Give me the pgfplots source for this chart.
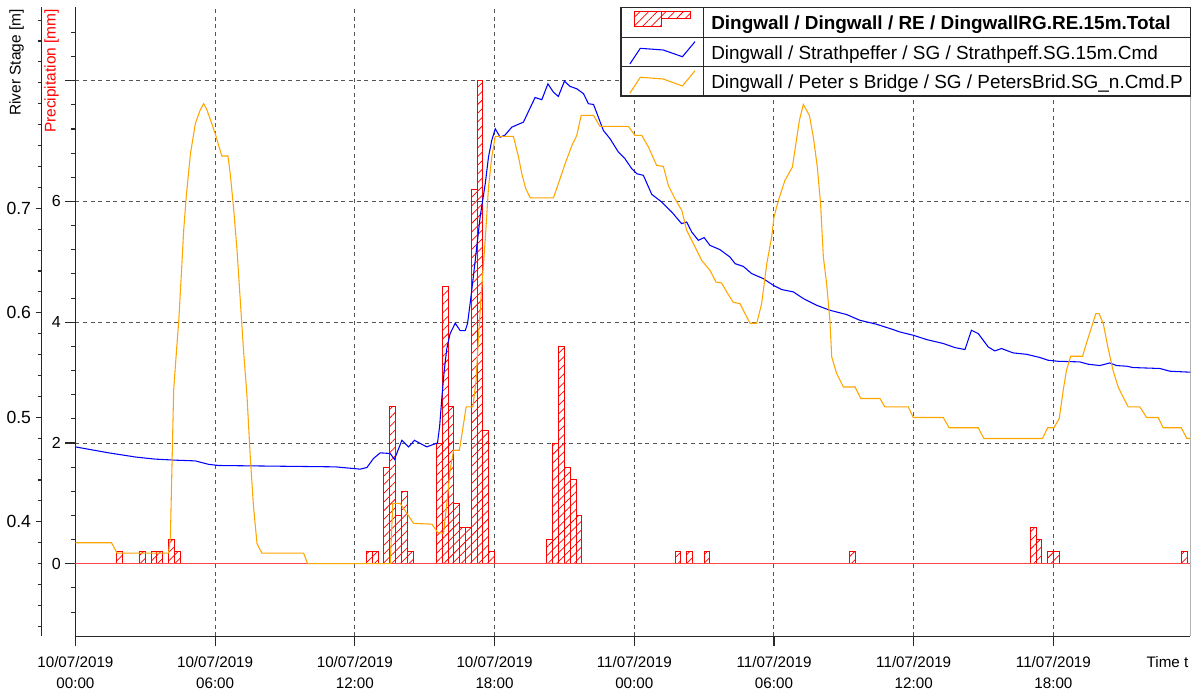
\documentclass[border=0pt]{standalone}
\usepackage{fontspec}
\setmainfont{Liberation Sans}
\usepackage{pgfplots}
\pgfplotsset{compat=1.18}
\usepackage{pgfplotstable}
\usetikzlibrary{patterns.meta}

\definecolor{stageblue}{RGB}{0,0,255}
\definecolor{peterorange}{RGB}{255,165,0}
\definecolor{rainred}{RGB}{255,0,0}
\definecolor{zerored}{RGB}{255,70,70}
\definecolor{gridgray}{RGB}{85,85,85}
\definecolor{axisgray}{RGB}{40,40,40}

% Precipitation, 15 min totals (bar centre in hours from 10/07/2019 00:00, mm)
\pgfplotstableread{
t p
1.875 0.2
2.875 0.2
3.375 0.2
3.625 0.2
4.125 0.4
4.375 0.2
12.625 0.2
12.875 0.2
13.375 1.6
13.625 2.6
13.875 0.8
14.125 1.2
14.375 0.2
15.625 2.0
15.875 4.6
16.125 2.6
16.375 1.0
16.625 0.6
16.875 0.6
17.125 6.2
17.375 8.0
17.625 2.2
17.875 0.2
20.375 0.4
20.625 2.0
20.875 3.6
21.125 1.6
21.375 1.4
21.625 0.8
25.875 0.2
26.375 0.2
27.125 0.2
33.375 0.2
41.125 0.6
41.375 0.4
41.875 0.2
42.125 0.2
47.625 0.2
}\rain

% Strathpeffer river stage (m)
\pgfplotstableread{
t s
0 0.4717
1.43 0.466
2.58 0.462
3.43 0.460
4.29 0.459
5.15 0.4583
5.72 0.455
6.15 0.4539
8.44 0.4533
11.16 0.4526
12.23 0.4504
12.52 0.452
12.80 0.4606
13.09 0.466
13.52 0.4654
13.70 0.4597
13.88 0.470
14.02 0.478
14.31 0.4717
14.56 0.478
14.81 0.475
15.09 0.4717
15.55 0.4755
15.64 0.491
15.74 0.5195
15.84 0.545
15.95 0.5658
16.09 0.580
16.31 0.590
16.52 0.583
16.74 0.583
16.84 0.5897
16.98 0.614
17.17 0.650
17.38 0.6916
17.60 0.7235
17.74 0.749
17.88 0.765
18.03 0.776
18.24 0.768
18.45 0.770
18.74 0.7776
19.24 0.7824
19.74 0.806
20.03 0.8038
20.29 0.819
20.53 0.811
20.74 0.807
21.00 0.8216
21.24 0.8166
21.53 0.8143
21.82 0.8096
22.03 0.800
22.25 0.7993
22.46 0.787
22.67 0.7745
22.96 0.7665
23.32 0.7537
23.60 0.7474
23.89 0.7379
24.11 0.733
24.39 0.7315
24.75 0.7133
25.18 0.7059
25.61 0.6964
26.03 0.6853
26.25 0.6868
26.47 0.6772
26.75 0.6693
27.00 0.6719
27.25 0.6645
27.68 0.6604
28.11 0.6533
28.33 0.647
28.68 0.6444
29.04 0.6375
29.54 0.6327
29.97 0.6263
30.33 0.6222
30.83 0.620
31.26 0.6136
31.83 0.6072
32.40 0.6024
33.12 0.5983
33.69 0.5928
34.41 0.589
35.12 0.5839
35.41 0.5816
35.98 0.5785
36.55 0.5744
37.27 0.5706
37.77 0.5667
38.20 0.5648
38.48 0.5833
38.77 0.5801
39.20 0.5673
39.48 0.5635
39.77 0.5658
40.27 0.5616
40.84 0.5603
41.42 0.5572
41.77 0.5546
42.20 0.5536
43.13 0.553
43.49 0.5508
43.99 0.5495
44.42 0.552
44.71 0.5495
45.14 0.5489
45.42 0.5476
46.57 0.5467
47.00 0.5441
47.64 0.5434
47.88 0.5432
}\strath

% Peter's Bridge river stage (m)
\pgfplotstableread{
t s
0 0.380
1.55 0.380
1.79 0.370
4.00 0.370
4.08 0.386
4.15 0.456
4.22 0.526
4.29 0.548
4.44 0.593
4.55 0.637
4.65 0.679
4.76 0.711
4.94 0.752
5.15 0.781
5.36 0.794
5.51 0.800
5.65 0.794
5.84 0.782
6.01 0.771
6.15 0.760
6.29 0.750
6.55 0.750
6.65 0.733
6.79 0.701
6.94 0.660
7.08 0.612
7.22 0.564
7.37 0.520
7.51 0.462
7.65 0.414
7.80 0.379
8.01 0.370
9.80 0.370
9.97 0.360
13.52 0.360
13.63 0.4176
13.95 0.4176
14.24 0.408
14.52 0.3985
15.31 0.3978
15.55 0.390
15.81 0.389
15.95 0.4176
16.09 0.4494
16.24 0.4685
16.49 0.4685
16.67 0.494
16.78 0.510
17.07 0.510
17.21 0.536
17.31 0.577
17.42 0.615
17.60 0.670
17.74 0.720
17.88 0.749
18.03 0.7687
18.81 0.7687
19.03 0.749
19.17 0.733
19.34 0.7187
19.53 0.710
20.53 0.710
20.74 0.7235
21.03 0.7426
21.32 0.760
21.53 0.7697
21.72 0.7888
22.25 0.7888
22.53 0.7783
23.75 0.7783
24.03 0.7697
24.32 0.7697
24.61 0.7585
24.96 0.741
25.25 0.740
25.46 0.722
25.75 0.709
26.04 0.698
26.25 0.679
26.61 0.663
26.90 0.650
27.25 0.6406
27.51 0.6294
27.75 0.6285
27.97 0.620
28.25 0.610
28.54 0.6088
28.76 0.599
28.97 0.590
29.26 0.590
29.47 0.6088
29.69 0.647
29.90 0.6725
30.00 0.6916
30.19 0.7076
30.47 0.7267
30.79 0.7394
30.94 0.7618
31.09 0.784
31.26 0.7993
31.52 0.7888
31.69 0.768
31.86 0.7394
32.00 0.7044
32.12 0.6533
32.26 0.628
32.40 0.5928
32.48 0.5577
32.69 0.5419
32.98 0.529
33.48 0.529
33.73 0.518
34.55 0.518
34.76 0.510
35.77 0.510
35.98 0.4998
37.27 0.4998
37.52 0.490
38.77 0.490
39.01 0.4797
41.53 0.4797
41.75 0.490
42.02 0.490
42.25 0.4989
42.42 0.5259
42.56 0.545
42.74 0.5584
43.25 0.5584
43.42 0.5711
43.64 0.5864
43.82 0.5992
43.96 0.5992
44.14 0.5897
44.35 0.5658
44.56 0.545
44.78 0.529
44.99 0.5195
45.21 0.510
45.71 0.510
46.00 0.4998
46.50 0.4998
46.71 0.490
47.49 0.490
47.73 0.4797
47.88 0.4797
}\peters

\begin{document}
\begin{tikzpicture}
\useasboundingbox (0,0) rectangle (900.75pt,521.25pt);

% ---------- precipitation axis (main frame, time axis, grid, bars) ----------
\begin{axis}[
  at={(56.55pt,43.875pt)}, anchor=south west,
  scale only axis, width=836.2pt, height=472.4pt,
  xmin=0, xmax=47.88, ymin=-1.204, ymax=9.227,
  axis x line*=bottom, axis y line*=left,
  axis line style={axisgray, line width=1pt, -},
  tick style={axisgray, line width=0.8pt},
  tick align=outside,
  major tick length=7.5pt, minor tick length=3pt,
  xtick={0,6,12,18,24,30,36,42},
  xticklabels={{10/07/2019\\00:00},{10/07/2019\\06:00},{10/07/2019\\12:00},{10/07/2019\\18:00},{11/07/2019\\00:00},{11/07/2019\\06:00},{11/07/2019\\12:00},{11/07/2019\\18:00}},
  xticklabel style={align=center, font=\fontsize{11.4}{16}\selectfont, yshift=-3.6pt},
  ytick={0,2,4,6,8}, yticklabels={0,2,4,6,{}},
  minor ytick={-0.8,-0.4,0.4,0.8,1.2,1.6,2.4,2.8,3.2,3.6,4.4,4.8,5.2,5.6,6.4,6.8,7.2,7.6,8.4,8.8},
  yticklabel style={font=\fontsize{12}{14}\selectfont},
  xmajorgrids, ymajorgrids,
  major grid style={gridgray, line width=0.75pt, dash pattern=on 3pt off 2.7pt},
  xlabel={Time t},
  xlabel style={at={(rel axis cs:1,0)}, anchor=base east, xshift=2pt, yshift=-22.9pt, font=\fontsize{11.4}{14}\selectfont},
  clip=true,
]
\draw[axisgray, line width=1pt] (rel axis cs:1,0) -- (rel axis cs:1,1);
\addplot[ybar, bar width=0.25, bar shift=0pt, draw=rainred, line width=0.7pt,
  pattern={Lines[angle=45,distance=4.6pt,line width=0.55pt]}, pattern color=rainred]
  table[x=t, y=p] {\rain};
\addplot[zerored, line width=1pt] coordinates {(0,0) (47.88,0)};
\end{axis}

% ---------- river stage data (shares the frame) ----------
\begin{axis}[
  at={(56.55pt,43.875pt)}, anchor=south west,
  scale only axis, width=836.2pt, height=472.4pt,
  xmin=0, xmax=47.88, ymin=0.2903, ymax=0.8929,
  hide axis, clip=true,
]
\addplot[stageblue, line width=0.8pt] table[x=t, y=s] {\strath};
\addplot[peterorange, line width=0.8pt] table[x=t, y=s] {\peters};
\end{axis}

% ---------- river stage scale (outer left axis) ----------
\begin{axis}[
  at={(31.3pt,43.875pt)}, anchor=south west,
  scale only axis, width=2pt, height=472.4pt,
  xmin=0, xmax=1, ymin=0.2903, ymax=0.8929,
  axis x line=none, axis y line*=left,
  axis line style={axisgray, line width=1pt, -},
  tick style={axisgray, line width=0.8pt},
  tick align=outside,
  major tick length=4.5pt, minor tick length=3pt,
  ytick={0.4,0.5,0.6,0.7}, yticklabels={0.4,0.5,0.6,0.7},
  minor ytick={0.30,0.32,0.34,0.36,0.38,0.42,0.44,0.46,0.48,0.52,0.54,0.56,0.58,0.62,0.64,0.66,0.68,0.72,0.74,0.76,0.78,0.80,0.82,0.84,0.86,0.88},
  yticklabel style={font=\fontsize{13.2}{15}\selectfont},
]
\end{axis}

% ---------- axis titles ----------
\node[rotate=90, anchor=east, font=\fontsize{11.6}{14}\selectfont, inner sep=0pt] at (12.5pt,514.6pt) {River Stage [m]};
\node[rotate=90, anchor=east, font=\fontsize{11.6}{14}\selectfont, text=rainred, inner sep=0pt] at (38.8pt,514.6pt) {Precipitation [mm]};

% ---------- legend ----------
\fill[white] (465.75pt,449.25pt) rectangle (892.7pt,515.8pt);
\draw[axisgray, line width=1pt] (465.75pt,449.25pt) rectangle (892.7pt,515.8pt);
\draw[axisgray, line width=1pt] (465.75pt,493.0pt) -- (892.7pt,493.0pt);
\draw[axisgray, line width=1pt] (465.75pt,471.2pt) -- (892.7pt,471.2pt);
\draw[axisgray, line width=1pt] (527.55pt,449.25pt) -- (527.55pt,515.8pt);
\draw[rainred, line width=0.7pt, pattern={Lines[angle=45,distance=4.6pt,line width=0.55pt]}, pattern color=rainred]
  (475.9pt,501.2pt) rectangle (496.0pt,512.5pt);
\draw[rainred, line width=0.7pt, pattern={Lines[angle=45,distance=4.6pt,line width=0.55pt]}, pattern color=rainred]
  (496.0pt,507.5pt) rectangle (517.5pt,512.5pt);
\draw[stageblue, line width=0.8pt] (472.4pt,473.25pt) -- (480.2pt,485.0pt) -- (497.4pt,483.75pt) -- (511.8pt,478.7pt) -- (521.25pt,490.0pt);
\draw[peterorange, line width=0.8pt] (472.4pt,451.3pt) -- (480.2pt,463.3pt) -- (497.4pt,462.0pt) -- (511.8pt,456.75pt) -- (521.25pt,468.2pt);
\node[anchor=base west, inner sep=0pt, font=\fontsize{14.2}{16}\selectfont\bfseries] at (533.25pt,499.1pt) {Dingwall / Dingwall / RE / DingwallRG.RE.15m.Total};
\node[anchor=base west, inner sep=0pt, font=\fontsize{14.2}{16}\selectfont] at (533.25pt,476.6pt) {Dingwall / Strathpeffer / SG / Strathpeff.SG.15m.Cmd};
\node[anchor=base west, inner sep=0pt, font=\fontsize{14.2}{16}\selectfont] at (533.25pt,454.9pt) {Dingwall / Peter s Bridge / SG / PetersBrid.SG\_n.Cmd.P};
\end{tikzpicture}
\end{document}
